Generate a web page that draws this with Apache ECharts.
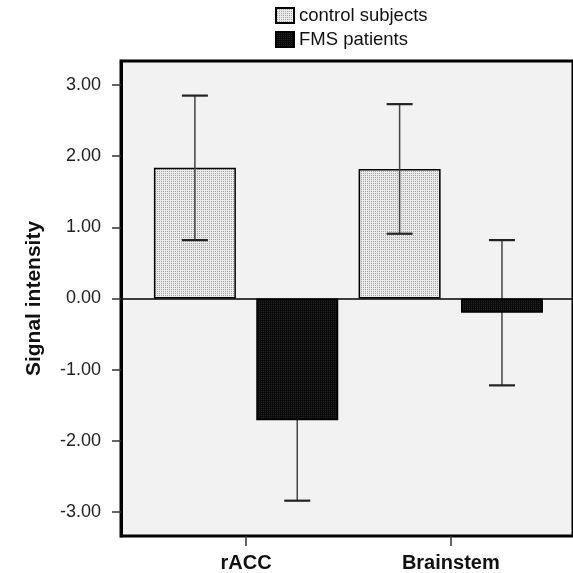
<!DOCTYPE html>
<html>
<head>
<meta charset="utf-8">
<script src="https://cdn.jsdelivr.net/npm/echarts@6/dist/echarts.min.js"></script>
<style>html,body{margin:0;padding:0;background:#fff;}#c{width:573px;height:573px;}</style>
</head>
<body>
<div id="c"></div>
<script>
const categories = ['rACC', 'Brainstem'];
const seriesNames = ['control subjects', 'FMS patients'];
const controlMean = [1.835, 1.82];
const controlErr = [1.015, 0.91];
const fmsMean = [-1.71, -0.20];
const fmsErr = [1.13, 1.02];
const yTicks = [-3, -2, -1, 0, 1, 2, 3];

const FONT = '"Liberation Sans", Arial, sans-serif';
const dodge = 0.25;

function makePattern(bg, dot, size, dots) {
  const c = document.createElement('canvas');
  c.width = size; c.height = size;
  const ctx = c.getContext('2d');
  ctx.fillStyle = bg; ctx.fillRect(0, 0, size, size);
  ctx.fillStyle = dot;
  dots.forEach(p => ctx.fillRect(p[0], p[1], 1, 1));
  return c;
}
const ctrlPattern = { image: makePattern('#ebebeb', '#a2a2a2', 2, [[1, 1]]), repeat: 'repeat' };
const fmsPattern = { image: makePattern('#0a0a0a', '#262626', 2, [[1, 1]]), repeat: 'repeat' };

const errData = [];
controlMean.forEach((m, i) => errData.push([i - dodge, m - controlErr[i], m + controlErr[i]]));
fmsMean.forEach((m, i) => errData.push([i + dodge, m - fmsErr[i], m + fmsErr[i]]));

const chart = echarts.init(document.getElementById('c'), null, { renderer: 'canvas' });
chart.setOption({
  animation: false,
  backgroundColor: '#ffffff',
  textStyle: { fontFamily: FONT },
  legend: {
    data: seriesNames,
    orient: 'vertical',
    left: 275, top: 6, padding: 0,
    itemWidth: 18, itemHeight: 15, itemGap: 5,
    icon: 'rect',
    textStyle: { fontSize: 18.5, color: '#111', fontFamily: FONT }
  },
  grid: {
    left: 121, right: -8, top: 61, bottom: 35,
    show: true, backgroundColor: '#f2f2f2',
    borderColor: '#000', borderWidth: 3
  },
  xAxis: {
    type: 'value',
    min: -0.611, max: 1.597,
    axisLine: { show: false, onZero: false },
    splitLine: { show: false },
    axisTick: { show: true, customValues: [0, 1], length: 10, lineStyle: { color: '#333', width: 1.5 } },
    axisLabel: {
      customValues: [0, 1],
      formatter: v => categories[Math.round(v)],
      fontSize: 20, fontWeight: 'bold', color: '#111', margin: 17, fontFamily: FONT
    }
  },
  yAxis: {
    type: 'value',
    min: -3.336, max: 3.336,
    name: 'Signal intensity',
    nameLocation: 'middle', nameRotate: 90, nameGap: 76,
    nameTextStyle: { fontSize: 21, fontWeight: 'bold', color: '#111', fontFamily: FONT },
    axisLine: { show: true, onZero: false, lineStyle: { color: '#000', width: 3 } },
    splitLine: { show: false },
    axisTick: { show: true, customValues: yTicks, length: 9, lineStyle: { color: '#333', width: 1.5 } },
    axisLabel: {
      customValues: yTicks,
      formatter: v => v.toFixed(2),
      fontSize: 18, color: '#222', margin: 20, fontFamily: FONT
    }
  },
  series: [
    {
      name: seriesNames[0], type: 'bar', barWidth: 82, barGap: '-100%', z: 2,
      data: controlMean.map((v, i) => [i - dodge, v]),
      itemStyle: { color: ctrlPattern, borderColor: '#000', borderWidth: 1.5 },
      markLine: {
        silent: true, symbol: 'none', label: { show: false },
        lineStyle: { color: '#000', width: 1.5, type: 'solid' },
        data: [{ yAxis: 0 }]
      }
    },
    {
      name: seriesNames[1], type: 'bar', barWidth: 82, barGap: '-100%', z: 4,
      data: fmsMean.map((v, i) => [i + dodge, v]),
      itemStyle: { color: fmsPattern, borderColor: '#000', borderWidth: 1.5 }
    },
    {
      type: 'custom', z: 3, silent: true,
      data: errData,
      encode: { x: 0, y: [1, 2] },
      renderItem: function (params, api) {
        const x = api.value(0);
        const lo = api.coord([x, api.value(1)]);
        const hi = api.coord([x, api.value(2)]);
        const h = 13;
        const st = { stroke: '#444', lineWidth: 1.5 };
        const cap = { stroke: '#222', lineWidth: 2.2 };
        return {
          type: 'group',
          children: [
            { type: 'line', shape: { x1: lo[0], y1: lo[1], x2: hi[0], y2: hi[1] }, style: st },
            { type: 'line', shape: { x1: lo[0] - h, y1: lo[1], x2: lo[0] + h, y2: lo[1] }, style: cap },
            { type: 'line', shape: { x1: hi[0] - h, y1: hi[1], x2: hi[0] + h, y2: hi[1] }, style: cap }
          ]
        };
      }
    }
  ]
});
</script>
</body>
</html>
